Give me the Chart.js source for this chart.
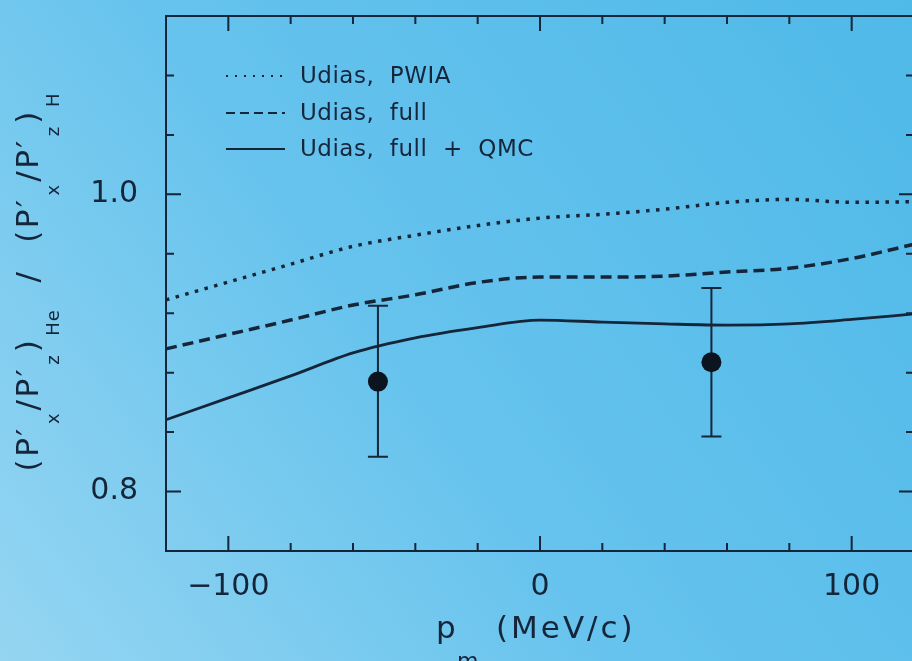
<!DOCTYPE html>
<html>
<head>
<meta charset="utf-8">
<script src="https://cdn.jsdelivr.net/npm/chart.js@4"></script>
<style>
  html, body { margin: 0; padding: 0; overflow: hidden; background: #6ec6ee; }
  canvas { display: block; }
</style>
</head>
<body>
<canvas id="ratioChart" width="924" height="661"></canvas>
<script>
// missing momentum grid (MeV/c) for the Udias curves
const pm = [-120, -100, -80, -60, -40, -20, 0, 20, 40, 60, 80, 100, 120];
const udiasPwia = [0.929, 0.941, 0.953, 0.965, 0.9725, 0.979, 0.984, 0.9866, 0.990, 0.9946, 0.9966, 0.9946, 0.995];
const udiasFull = [0.896, 0.9057, 0.9154, 0.9255, 0.9324, 0.9407, 0.9443, 0.9443, 0.945, 0.9477, 0.9503, 0.9568, 0.9664];
const udiasQmc = [0.8483, 0.863, 0.8778, 0.8933, 0.9034, 0.9103, 0.9154, 0.914, 0.9128, 0.912, 0.9128, 0.9158, 0.9195];

// measured points with their error bars
const dataPm = [-52, 55];
const dataRatio = [0.874, 0.887];
const dataLow = [0.8235, 0.837];
const dataHigh = [0.925, 0.937];

const xTickLabels = [-100, 0, 100];
const xMinorTicks = [-80, -60, -40, -20, 20, 40, 60, 80];
const yTickLabels = [0.8, 1.0];
const yMinorTicks = [0.84, 0.88, 0.92, 0.96, 1.04, 1.08];

const legendLabels = ['Udias,  PWIA', 'Udias,  full', 'Udias,  full  +  QMC'];

const ink = '#15253a';
const fontFamily = '"DejaVu Sans", sans-serif';

const toXY = (xs, ys) => xs.map((x, i) => ({ x: x, y: ys[i] }));

// frame, inward ticks, error bars, legend and axis titles
const decorations = {
  id: 'decorations',
  beforeDraw(chart) {
    const c = chart.ctx;
    const g = c.createLinearGradient(912, 0, 0, chart.height);
    g.addColorStop(0, '#4fb9e8');
    g.addColorStop(0.55, '#66c3ed');
    g.addColorStop(1, '#95d5f2');
    c.save();
    c.fillStyle = g;
    c.fillRect(0, 0, chart.width, chart.height);
    c.restore();
  },
  beforeDatasetsDraw(chart) {
    const c = chart.ctx, xs = chart.scales.x, ys = chart.scales.y;
    c.save();
    c.strokeStyle = ink;
    c.lineWidth = 2;
    dataPm.forEach((v, i) => {
      const px = xs.getPixelForValue(v);
      const top = ys.getPixelForValue(dataHigh[i]);
      const bot = ys.getPixelForValue(dataLow[i]);
      c.beginPath();
      c.moveTo(px, top); c.lineTo(px, bot);
      c.moveTo(px - 10, top); c.lineTo(px + 10, top);
      c.moveTo(px - 10, bot); c.lineTo(px + 10, bot);
      c.stroke();
    });
    c.restore();
  },
  afterDatasetsDraw(chart) {
    const c = chart.ctx, a = chart.chartArea, xs = chart.scales.x, ys = chart.scales.y;
    c.save();
    c.strokeStyle = ink;
    c.lineWidth = 2;
    c.strokeRect(a.left, a.top, a.right - a.left, a.bottom - a.top);
    c.beginPath();
    const xTick = (v, len) => {
      const px = xs.getPixelForValue(v);
      c.moveTo(px, a.bottom); c.lineTo(px, a.bottom - len);
      c.moveTo(px, a.top); c.lineTo(px, a.top + len);
    };
    const yTick = (v, len) => {
      const py = ys.getPixelForValue(v);
      c.moveTo(a.left, py); c.lineTo(a.left + len, py);
      c.moveTo(a.right, py); c.lineTo(a.right - len, py);
    };
    xTickLabels.forEach(v => xTick(v, 15));
    xMinorTicks.forEach(v => xTick(v, 8));
    yTickLabels.forEach(v => yTick(v, 15));
    yMinorTicks.forEach(v => yTick(v, 8));
    c.stroke();

    // legend
    const rows = [76, 113, 149];
    const samples = [
      { dash: [2, 7], width: 2 },
      { dash: [9, 5], width: 2 },
      { dash: [], width: 2 }
    ];
    c.font = '23px ' + fontFamily;
    c.letterSpacing = '0.5px';
    c.fillStyle = ink;
    c.textBaseline = 'middle';
    rows.forEach((y, i) => {
      c.beginPath();
      c.setLineDash(samples[i].dash);
      c.lineWidth = samples[i].width;
      c.moveTo(226, y); c.lineTo(285, y);
      c.stroke();
      c.setLineDash([]);
      c.fillText(legendLabels[i], 300, y + 1);
    });
    c.restore();
  },
  afterDraw(chart) {
    const c = chart.ctx;
    c.save();
    c.fillStyle = ink;
    c.textBaseline = 'alphabetic';

    // x title: p_m (MeV/c)
    c.font = '31px ' + fontFamily;
    c.fillText('p', 436, 638);
    c.font = '22px ' + fontFamily;
    c.fillText('m', 457, 668);
    c.font = '31px ' + fontFamily;
    c.letterSpacing = '3px';
    c.fillText('(MeV/c)', 496, 638);
    c.letterSpacing = '0px';

    // y title, rotated, with subscripts
    const main = '31px ' + fontFamily, sub = '18px ' + fontFamily;
    const runs = [
      ['(P\u2032', 0], ['x', 1], ['/P\u2032', 0], ['z', 1], [')', 0], ['He', 1],
      ['  /  ', 0],
      ['(P\u2032', 0], ['x', 1], ['/P\u2032', 0], ['z', 1], [')', 0], ['H', 1]
    ];
    const setRun = r => {
      c.font = r[1] ? sub : main;
      c.letterSpacing = r[1] ? '1px' : '2.5px';
    };
    let total = 0;
    runs.forEach(r => { setRun(r); total += c.measureText(r[0]).width + 2; });
    c.translate(38, 281);
    c.rotate(-Math.PI / 2);
    let x = -total / 2;
    runs.forEach(r => {
      setRun(r);
      c.fillText(r[0], x, r[1] ? 21 : 0);
      x += c.measureText(r[0]).width + 2;
    });
    c.restore();
  }
};

const ctx = document.getElementById('ratioChart').getContext('2d');
const ratioChart = new Chart(ctx, {
  type: 'line',
  data: {
    datasets: [
      {
        label: 'Udias, PWIA',
        data: toXY(pm, udiasPwia),
        borderColor: ink,
        borderWidth: 3.5,
        borderDash: [3.5, 6.5],
        pointRadius: 0,
        cubicInterpolationMode: 'monotone'
      },
      {
        label: 'Udias, full',
        data: toXY(pm, udiasFull),
        borderColor: ink,
        borderWidth: 3.5,
        borderDash: [11, 6],
        pointRadius: 0,
        cubicInterpolationMode: 'monotone'
      },
      {
        label: 'Udias, full + QMC',
        data: toXY(pm, udiasQmc),
        borderColor: ink,
        borderWidth: 2.8,
        pointRadius: 0,
        cubicInterpolationMode: 'monotone'
      },
      {
        type: 'scatter',
        label: 'data',
        data: toXY(dataPm, dataRatio),
        showLine: false,
        pointRadius: 10,
        pointBackgroundColor: '#0c1420',
        pointBorderColor: '#0c1420',
        borderWidth: 0
      }
    ]
  },
  options: {
    responsive: false,
    animation: false,
    clip: false,
    layout: { padding: { top: 16, right: 2, left: 0, bottom: 0 } },
    plugins: {
      legend: { display: false },
      tooltip: { enabled: false }
    },
    scales: {
      x: {
        type: 'linear',
        min: -120,
        max: 120,
        grid: { display: false, drawTicks: false },
        border: { display: false },
        afterBuildTicks: s => { s.ticks = xTickLabels.map(v => ({ value: v })); },
        afterFit: s => {
          s.height = 110;
          s.paddingLeft = 0; s.paddingRight = 0; s.paddingTop = 0; s.paddingBottom = 0;
        },
        ticks: {
          color: ink,
          font: { family: fontFamily, size: 30 },
          padding: 18,
          maxRotation: 0,
          callback: v => (v < 0 ? '\u2212' + Math.abs(v) : String(v))
        }
      },
      y: {
        type: 'linear',
        min: 0.76,
        max: 1.12,
        grid: { display: false, drawTicks: false },
        border: { display: false },
        afterBuildTicks: s => { s.ticks = yTickLabels.map(v => ({ value: v })); },
        afterFit: s => {
          s.width = 166;
          s.paddingLeft = 0; s.paddingRight = 0; s.paddingTop = 0; s.paddingBottom = 0;
        },
        ticks: {
          color: ink,
          font: { family: fontFamily, size: 30 },
          padding: 28,
          callback: v => v.toFixed(1)
        }
      }
    }
  },
  plugins: [decorations]
});
</script>
</body>
</html>
